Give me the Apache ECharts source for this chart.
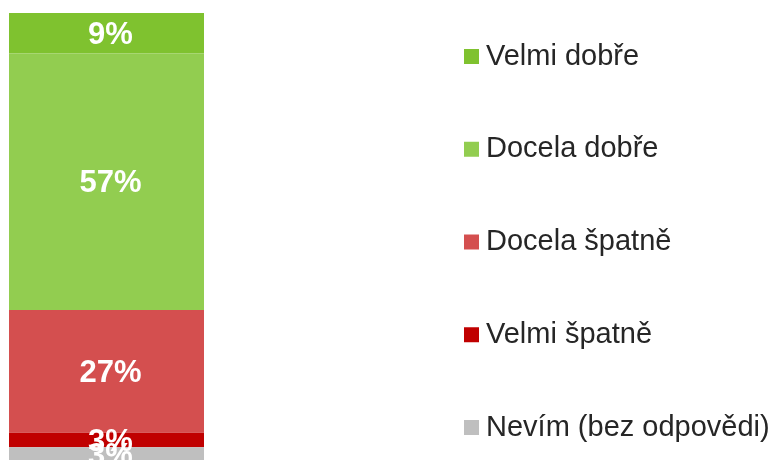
<!DOCTYPE html>
<html>
<head>
<meta charset="utf-8">
<script src="https://cdn.jsdelivr.net/npm/echarts@6/dist/echarts.min.js"></script>
<style>
  html, body { margin: 0; padding: 0; background: #fff; }
  #chart { width: 775px; height: 460px; }
</style>
</head>
<body>
<div id="chart"></div>
<script>
// odpovědi, shora dolů (pořadí stohu i legendy)
const categories = ['Celkem'];
const seriesNames = ['Velmi dobře', 'Docela dobře', 'Docela špatně', 'Velmi špatně', 'Nevím (bez odpovědi)'];
const seriesValues = [9.0, 57.0, 27.3, 3.2, 3.4];
const seriesColors = ['#7FC22F', '#92CD50', '#D44F4F', '#C00000', '#BFBFBF'];

const myChart = echarts.init(document.getElementById('chart'));

const option = {
  animation: false,
  grid: {
    left: 9,
    top: 13,
    width: 195,
    bottom: 0
  },
  xAxis: {
    type: 'category',
    data: categories,
    show: false
  },
  yAxis: {
    type: 'value',
    inverse: true, // stoh shora dolů, spodek přetéká přes okraj
    min: 0,
    max: 99.33,
    show: false
  },
  legend: {
    orient: 'vertical',
    left: 464,
    top: 41,
    padding: 0,
    icon: 'rect',
    itemWidth: 15,
    itemHeight: 15,
    itemGap: 61.75,
    data: seriesNames,
    textStyle: {
      fontFamily: 'Liberation Sans',
      fontSize: 29,
      lineHeight: 30,
      padding: [1, 0, 0, 2],
      color: '#262626'
    }
  },
  series: seriesNames.map((name, i) => ({
    name: name,
    type: 'bar',
    stack: 'total',
    barWidth: '100%',
    clip: false,
    itemStyle: { color: seriesColors[i] },
    label: {
      show: true,
      position: 'inside',
      offset: [4, 2],
      formatter: (p) => Math.round(p.value) + '%',
      color: '#fff',
      fontFamily: 'Liberation Sans',
      fontWeight: 'bold',
      fontSize: 31
    },
    data: [seriesValues[i]]
  }))
};

option && myChart.setOption(option);
window.addEventListener('resize', myChart.resize);
</script>
</body>
</html>
